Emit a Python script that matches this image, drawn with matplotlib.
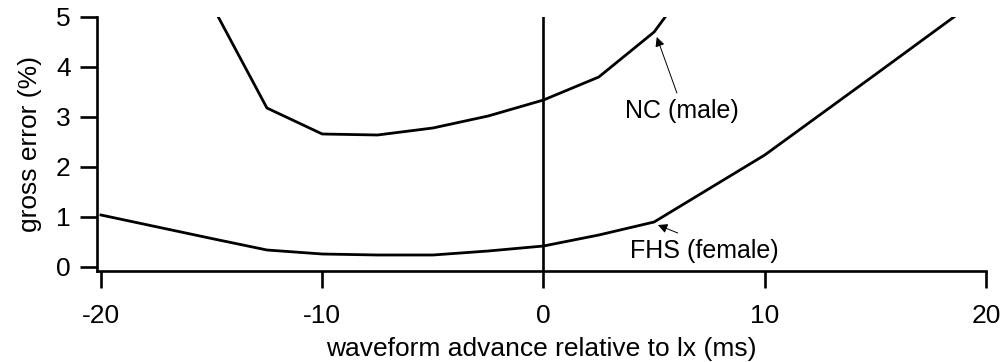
import matplotlib
matplotlib.use('Agg')
import matplotlib.pyplot as plt

# waveform advance (ms) and gross error (%)
nc_x = [-15, -12.5, -10, -7.5, -5, -2.5, 0, 2.5, 5, 7.5]
nc_y = [5.25, 3.18, 2.66, 2.64, 2.78, 3.02, 3.34, 3.80, 4.70, 6.2]
fhs_x = [-20, -15, -12.5, -10, -7.5, -5, -2.5, 0, 2.5, 5, 10, 15, 20]
fhs_y = [1.04, 0.57, 0.34, 0.26, 0.24, 0.24, 0.32, 0.42, 0.64, 0.90, 2.24, 3.85, 5.47]

xticks = [-20, -10, 0, 10, 20]
yticks = [0, 1, 2, 3, 4, 5]

plt.rcParams['font.family'] = ['Liberation Sans', 'DejaVu Sans']

fig = plt.figure(figsize=(10.04, 3.62), dpi=100)
ax = fig.add_axes([97 / 1004, 91 / 362, 889 / 1004, 254 / 362])

ax.plot(nc_x, nc_y, color='black', lw=2)
ax.plot(fhs_x, fhs_y, color='black', lw=2)
ax.axvline(0, color='black', lw=1.9)

ax.set_xlim(-20.18, 20)
ax.set_ylim(-0.08, 5)
ax.set_xticks(xticks)
ax.set_yticks(yticks)
ax.set_xticklabels([str(t) for t in xticks])

for s in ['top', 'right']:
    ax.spines[s].set_visible(False)
for s in ['left', 'bottom']:
    ax.spines[s].set_linewidth(1.9)
ax.tick_params(direction='out', length=12, width=1.9, labelsize=19)
ax.tick_params(axis='x', pad=12)
ax.tick_params(axis='y', pad=7)

ax.set_xlabel('waveform advance relative to lx (ms)', fontsize=19, labelpad=6)
ax.set_ylabel('gross error (%)', fontsize=19, labelpad=10)

# labels with arrows
ax.text(3.68, 2.98, 'NC (male)', fontsize=18, ha='left', va='baseline')
ax.annotate('', xy=(5.12, 4.6), xytext=(6.03, 3.48),
            arrowprops=dict(arrowstyle='-|>', color='black', lw=0.7,
                            shrinkA=0, shrinkB=0, mutation_scale=14))
ax.text(3.9, 0.18, 'FHS (female)', fontsize=18, ha='left', va='baseline')
ax.annotate('', xy=(5.17, 0.84), xytext=(6.07, 0.68),
            arrowprops=dict(arrowstyle='-|>', color='black', lw=0.7,
                            shrinkA=0, shrinkB=0, mutation_scale=14))

fig.savefig('out.png', dpi=100)
